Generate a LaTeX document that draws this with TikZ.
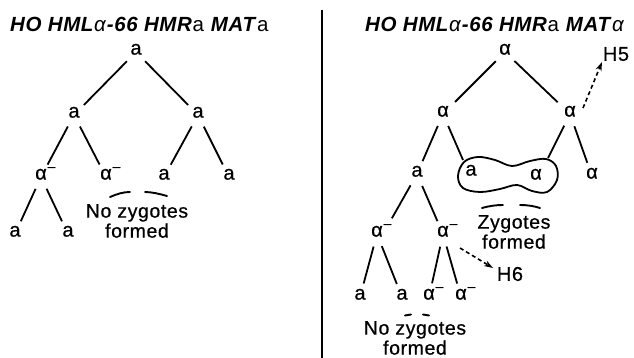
\documentclass[tikz,border=0pt]{standalone}
\usepackage{fontspec}
\setmainfont{Liberation Sans}[LetterSpace=3]
\newfontfamily\lblfont{Liberation Sans}[LetterSpace=3, FakeBold=0.6]
\usetikzlibrary{arrows.meta,calc}
\newcommand\amin{α\rlap{\kern0.8pt\raisebox{1pt}{\textsuperscript{–}}}}
\begin{document}
\begin{tikzpicture}[x=1pt,y=-1pt,
 lbl/.style={inner sep=0pt, font=\lblfont\fontsize{20}{22}\selectfont, text height=0.52em, text depth=0pt, anchor=center},
 tag/.style={inner sep=0pt, font=\lblfont\fontsize{20}{22}\selectfont, anchor=center},
 edge/.style={line width=1.8pt, shorten <=13pt, shorten >=14pt},
 note/.style={align=center, font=\lblfont\fontsize{19.5}{20}\selectfont, inner sep=0pt},
 title/.style={anchor=west, inner sep=0pt, font=\fontsize{20.5}{22}\selectfont},
 brace/.style={line width=1.9pt, line cap=round},
 dasharrow/.style={line width=1.6pt, dash pattern=on 4pt off 3pt, -{Stealth[length=9pt,width=6pt]}},
 divider/.style={line width=1.8pt}
]
\useasboundingbox (0,0) rectangle (634,358);

% titles
\node[title] (T1) at (10,24) {\textbf{\textit{HO HML}}\textit{α}\textbf{\textit{-66 HMR}}a \textbf{\textit{MAT}}a};
\node[title] (T2) at (365,24) {\textbf{\textit{HO HML}}\textit{α}\textbf{\textit{-66 HMR}}a \textbf{\textit{MAT}}\textit{α}};

% divider
\coordinate (D1) at (322,10);
\coordinate (D2) at (322,358);
\draw[divider] (D1) -- (D2);

% ---------- left tree ----------
\node[lbl] (La) at (136,52) {a};
\node[lbl] (Lb) at (74,115) {a};
\node[lbl] (Lc) at (198,115) {a};
\node[lbl] (Ld) at (41,177) {\amin};
\node[lbl] (Le) at (106,177) {\amin};
\node[lbl] (Lf) at (164,177) {a};
\node[lbl] (Lg) at (229,177) {a};
\node[lbl] (Lh) at (15,234) {a};
\node[lbl] (Li) at (68,234) {a};
\node[note] (Lnz) at (137,221) {No zygotes\\formed};

\draw[edge] (La.center) -- (Lb.center);
\draw[edge] (La.center) -- (Lc.center);
\draw[edge] (Lb.center) -- (Ld.center);
\draw[edge] (Lb.center) -- (Le.center);
\draw[edge] (Lc.center) -- (Lf.center);
\draw[edge] (Lc.center) -- (Lg.center);
\draw[edge] (Ld.center) -- (Lh.center);
\draw[edge] (Ld.center) -- (Li.center);

\draw[brace] (110,197) .. controls (117,194) and (123,192) .. (130,192);
\draw[brace] (145,192) .. controls (152,192) and (160,194) .. (167,196);

% ---------- right tree ----------
\node[lbl] (Ra) at (505,52) {α};
\node[lbl] (Rb) at (443,114) {α};
\node[lbl] (Rc) at (570,114) {α};
\node[lbl] (Rd) at (417,174) {a};
\node[lbl] (Re) at (471,173) {a};
\node[lbl] (Rf) at (536,177) {α};
\node[lbl] (Rg) at (592,176) {α};
\node[lbl] (Rh) at (377,234) {\amin};
\node[lbl] (Ri) at (443,234) {\amin};
\node[lbl] (Rj) at (360,297) {a};
\node[lbl] (Rk) at (402,297) {a};
\node[lbl] (Rl) at (429,297) {\amin};
\node[lbl] (Rm) at (461,297) {\amin};
\node[tag] (H5) at (616,54) {H5};
\node[tag] (H6) at (510,274) {H6};
\node[note] (Rzy) at (514,232) {Zygotes\\formed};
\node[note] (Rnz) at (415,338) {No zygotes\\formed};

\coordinate (zl) at (463,160);
\coordinate (zr) at (548,158);

\draw[edge, shorten >=17pt] (Ra.center) -- (Rb.center);
\draw[edge, shorten >=17pt] (Ra.center) -- (Rc.center);
\draw[edge, shorten >=0pt] (Rb.center) -- (zl);
\draw[edge] (Rb.center) -- (Rd.center);
\draw[edge, shorten >=0pt] (Rc.center) -- (zr);
\draw[edge] (Rc.center) -- (Rg.center);
\draw[edge, shorten >=18pt] (Rd.center) -- ($(Rh.center)+(6,0)$);
\draw[edge] (Rd.center) -- (Ri.center);
\draw[edge] (Rh.center) -- (Rj.center);
\draw[edge] (Rh.center) -- (Rk.center);
\draw[edge] (Ri.center) -- (Rl.center);
\draw[edge] (Ri.center) -- (Rm.center);

% blob around zygote pair
\draw[line width=1.8pt] plot[smooth cycle, tension=0.6] coordinates {
 (458,176) (464,162) (478,157) (495,160) (512,166) (530,161) (546,159)
 (556,166) (557,180) (547,192) (532,191) (517,185) (500,189) (480,192) (463,188)};

% dashed arrows
\coordinate (h5a) at (583,108);
\coordinate (h5b) at (602,62);
\draw[dasharrow] (h5a) -- (h5b);
\coordinate (h6a) at (460,248);
\coordinate (h6b) at (493,268);
\draw[dasharrow] (h6a) -- (h6b);

% braces
\draw[brace] (482,208) .. controls (489,206) and (496,205) .. (503,205);
\draw[brace] (520,205) .. controls (527,205) and (534,206) .. (540,208);
\draw[brace] (405,315.5) -- (411,314.5);
\draw[brace] (423,314.5) -- (429,315.5);
\end{tikzpicture}
\end{document}
